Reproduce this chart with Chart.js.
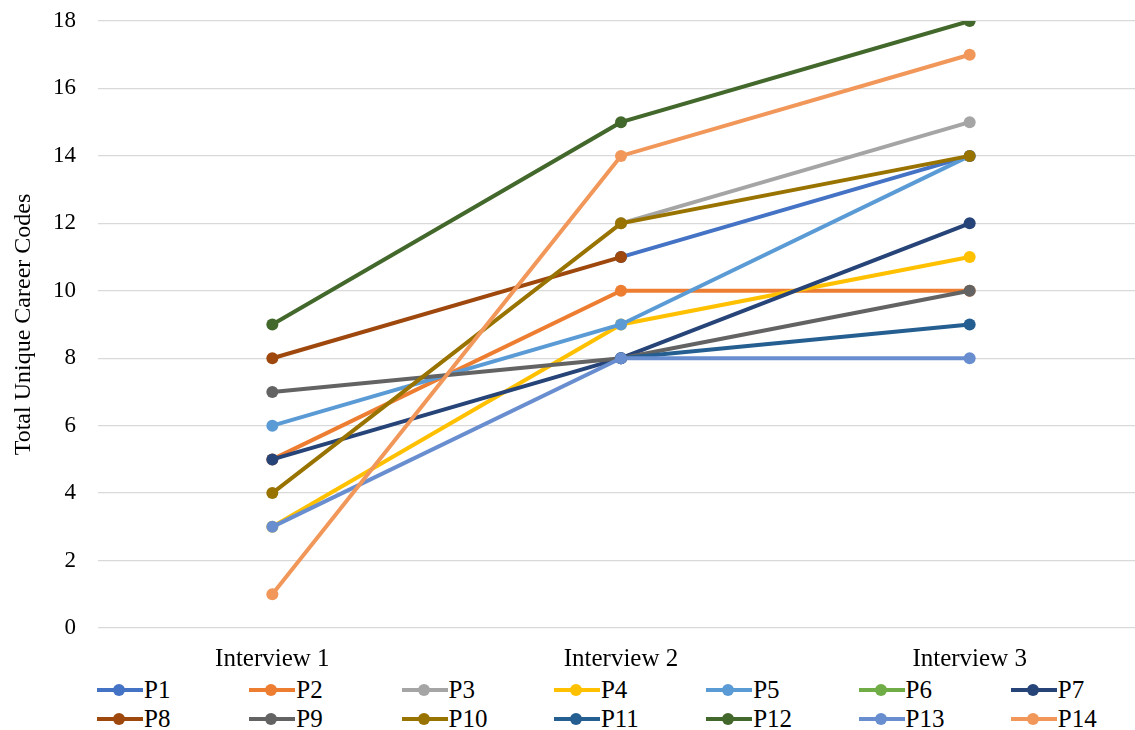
<!DOCTYPE html>
<html>
<head>
<meta charset="utf-8">
<script src="https://cdn.jsdelivr.net/npm/chart.js@4.4.1/dist/chart.umd.min.js"></script>
<style>
    html, body { margin: 0; padding: 0; background: #fff; overflow: hidden; }
    #wrap { position: relative; width: 1135px; height: 730px; overflow: hidden; }
    #box { position: absolute; left: 0; top: 0; width: 1150px; height: 675px; }
    #legend { position: absolute; left: 97px; top: 675px; width: 1040px; font-family: "Liberation Serif", "Times New Roman", serif; font-size: 25px; color: #000; }
    .item { position: absolute; height: 29px; display: flex; align-items: center; }
    .swatch { position: relative; width: 46px; height: 4px; margin-right: 1px; }
    .dot { position: absolute; left: 16px; top: -4px; width: 12px; height: 12px; border-radius: 50%; }
</style>
</head>
<body>
<div id="wrap">
    <div id="box"><canvas id="chart"></canvas></div>
    <div id="legend"></div>
</div>
<script>
// Categories and tick labels
const interviews = ['Interview 1', 'Interview 2', 'Interview 3'];
const yTicks = [0, 2, 4, 6, 8, 10, 12, 14, 16, 18];

// Series values per participant (null = no point drawn)
const p1 = [null, 11, 14];
const p2 = [5, 10, 10];
const p3 = [null, 12, 15];
const p4 = [3, 9, 11];
const p5 = [6, 9, 14];
const p6 = [null, null, null];
const p7 = [5, 8, 12];
const p8 = [8, 11, null];
const p9 = [7, 8, 10];
const p10 = [4, 12, 14];
const p11 = [null, 8, 9];
const p12 = [9, 15, 18];
const p13 = [3, 8, 8];
const p14 = [1, 14, 17];

const seriesNames = ['P1', 'P2', 'P3', 'P4', 'P5', 'P6', 'P7', 'P8', 'P9', 'P10', 'P11', 'P12', 'P13', 'P14'];
const seriesValues = [p1, p2, p3, p4, p5, p6, p7, p8, p9, p10, p11, p12, p13, p14];
const seriesColors = ['#4472C4', '#ED7D31', '#A5A5A5', '#FFC000', '#5B9BD5', '#70AD47', '#264478',
                      '#9E480E', '#636363', '#997300', '#255E91', '#43682B', '#698ED0', '#F1975A'];

const serif = '"Liberation Serif", "Times New Roman", serif';

// Excel draws later series on top, so give later ones a lower order
const datasets = seriesNames.map((name, i) => ({
    label: name,
    data: seriesValues[i],
    borderColor: seriesColors[i],
    backgroundColor: seriesColors[i],
    borderWidth: 4,
    pointRadius: 6,
    pointBorderWidth: 0,
    pointHoverRadius: 6,
    spanGaps: false,
    order: seriesNames.length - i
}));

new Chart(document.getElementById('chart'), {
    type: 'line',
    data: { labels: interviews, datasets: datasets },
    options: {
        responsive: true,
        maintainAspectRatio: false,
        animation: false,
        layout: { padding: { top: 21, right: 3, left: 0, bottom: 0 } },
        plugins: {
            legend: { display: false },
            tooltip: { enabled: false }
        },
        scales: {
            x: {
                offset: true,
                grid: { display: false },
                border: { display: false },
                ticks: { color: '#000', font: { family: serif, size: 25 }, padding: 8 },
                afterFit: (axis) => { axis.height = 47; }
            },
            y: {
                min: 0,
                max: 18,
                afterBuildTicks: (axis) => { axis.ticks = yTicks.map(v => ({ value: v })); },
                grid: { color: '#d9d9d9', lineWidth: 1.3, drawTicks: false },
                border: { display: false },
                ticks: { color: '#000', font: { family: serif, size: 23 }, padding: 22 },
                title: { display: true, text: 'Total Unique Career Codes', color: '#000', font: { family: serif, size: 24 }, padding: { top: 9, bottom: 0 } },
                afterFit: (axis) => {
                    axis.width = 98;
                    axis.paddingTop = 0;
                    axis.paddingBottom = 0;
                }
            }
        }
    }
});

// Legend laid out as a 7-column grid, like the original
const legend = document.getElementById('legend');
seriesNames.forEach((name, i) => {
    const item = document.createElement('div');
    item.className = 'item';
    item.style.left = (i % 7) * 152.3 + 'px';
    item.style.top = Math.floor(i / 7) * 29 + 'px';
    item.innerHTML = `<span class="swatch" style="background:${seriesColors[i]}"><span class="dot" style="background:${seriesColors[i]}"></span></span>${name}`;
    legend.appendChild(item);
});
</script>
</body>
</html>
